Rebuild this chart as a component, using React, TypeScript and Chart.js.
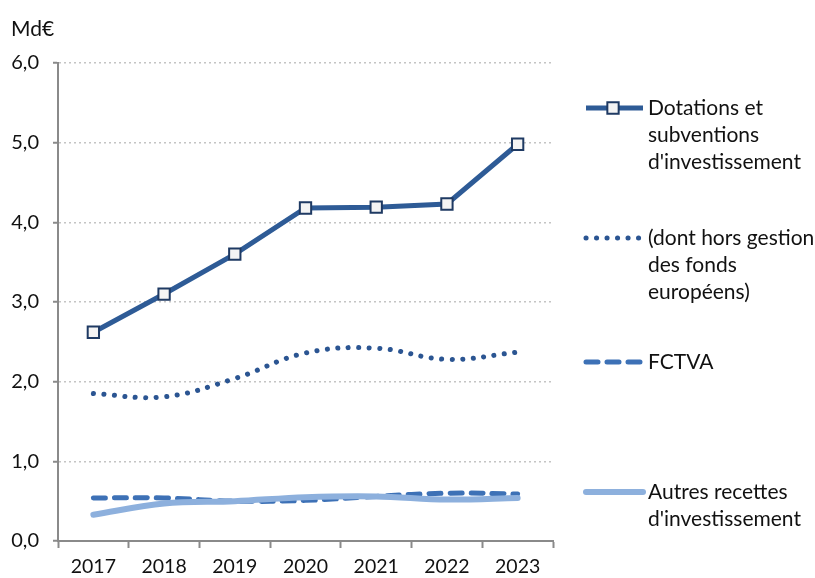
import React, { useEffect, useRef } from 'react';
import { Chart, registerables } from 'chart.js';

Chart.register(...registerables);

const FONT = 'Lato, "Open Sans", "DejaVu Sans", sans-serif';

const unitLabel = 'Md€';
const years = ['2017', '2018', '2019', '2020', '2021', '2022', '2023'];
const dotations = [2.62, 3.1, 3.6, 4.18, 4.19, 4.23, 4.98];
const horsFondsEuropeens = [1.85, 1.81, 2.04, 2.36, 2.42, 2.28, 2.37];
const fctva = [0.54, 0.54, 0.5, 0.51, 0.56, 0.6, 0.59];
const autresRecettes = [0.33, 0.47, 0.5, 0.55, 0.56, 0.52, 0.54];
const seriesLabels = [
  ['Dotations et', 'subventions', "d'investissement"],
  ['(dont hors gestion', 'des fonds', 'européens)'],
  ['FCTVA'],
  ['Autres recettes', "d'investissement"],
];
const yTickValues = [0, 1, 2, 3, 4, 5, 6];

const legendYs = [108, 238, 362, 492];
const TEXT = '#111111';

const overlayPlugin = {
  id: 'overlay',
  afterDraw(chart: any) {
    const ctx = chart.ctx;
    ctx.save();
    ctx.fillStyle = TEXT;
    ctx.font = `21px ${FONT}`;
    ctx.textBaseline = 'middle';
    ctx.textAlign = 'left';
    ctx.fillText(unitLabel, 11, 29);

    chart.data.datasets.forEach((ds: any, i: number) => {
      const y = legendYs[i];
      ctx.save();
      ctx.strokeStyle = ds.borderColor;
      ctx.lineWidth = ds.borderWidth;
      ctx.lineCap = ds.borderCapStyle || 'butt';
      ctx.setLineDash(ds.borderDash || []);
      ctx.beginPath();
      ctx.moveTo(586, y);
      ctx.lineTo(643, y);
      ctx.stroke();
      ctx.restore();
      if (ds.pointRadius > 0) {
        const s = ds.pointRadius * Math.SQRT1_2;
        ctx.save();
        ctx.fillStyle = ds.pointBackgroundColor;
        ctx.strokeStyle = ds.pointBorderColor;
        ctx.lineWidth = ds.pointBorderWidth;
        ctx.beginPath();
        ctx.rect(613 - s, y - s, 2 * s, 2 * s);
        ctx.fill();
        ctx.stroke();
        ctx.restore();
      }
      ctx.fillStyle = TEXT;
      ctx.font = `21px ${FONT}`;
      seriesLabels[i].forEach((t, j) => ctx.fillText(t, 648, y + j * 27));
    });
    ctx.restore();
  },
};

export default function App() {
  const ref = useRef<HTMLCanvasElement>(null);
  useEffect(() => {
    if (!ref.current) return;
    const chart = new Chart(ref.current, {
      type: 'line',
      data: {
        labels: years,
        datasets: [
          {
            label: seriesLabels[0].join(' '),
            data: dotations,
            borderColor: '#2E5B96',
            borderWidth: 5,
            tension: 0,
            pointStyle: 'rect',
            pointRadius: 8,
            pointBorderWidth: 2,
            pointBorderColor: '#1F3A63',
            pointBackgroundColor: '#F4F4F4',
            order: 0,
          } as any,
          {
            label: seriesLabels[1].join(' '),
            data: horsFondsEuropeens,
            borderColor: '#2B5592',
            borderWidth: 5,
            borderDash: [0.1, 10.4],
            borderCapStyle: 'round',
            tension: 0.4,
            pointRadius: 0,
            order: 3,
          },
          {
            label: seriesLabels[2].join(' '),
            data: fctva,
            borderColor: '#3D71B6',
            borderWidth: 5,
            borderDash: [12, 9],
            borderCapStyle: 'round',
            tension: 0.4,
            pointRadius: 0,
            order: 2,
          },
          {
            label: seriesLabels[3].join(' '),
            data: autresRecettes,
            borderColor: '#8DB0DD',
            borderWidth: 6,
            borderCapStyle: 'round',
            tension: 0.35,
            pointRadius: 0,
            order: 1,
          },
        ],
      },
      options: {
        animation: false,
        responsive: false,
        layout: { padding: { top: 63, right: 262, left: 0, bottom: 0 } },
        plugins: { legend: { display: false }, tooltip: { enabled: false } },
        scales: {
          x: {
            type: 'category',
            offset: true,
            grid: {
              offset: true,
              drawOnChartArea: false,
              drawTicks: true,
              tickLength: 7,
              color: '#8a8a8a',
              tickWidth: 2,
            },
            border: { color: '#8a8a8a', width: 2 },
            ticks: { color: TEXT, font: { family: FONT, size: 19.5 }, padding: 7, maxRotation: 0 },
            afterFit: (s: any) => {
              s.height = 37;
            },
          },
          y: {
            min: 0,
            max: 6,
            afterBuildTicks: (s: any) => {
              s.ticks = yTickValues.map((v) => ({ value: v }));
            },
            ticks: {
              color: TEXT,
              font: { family: FONT, size: 20 },
              padding: 14,
              callback: (v: any) => Number(v).toFixed(1).replace('.', ','),
            },
            grid: {
              color: '#C4C4C4',
              lineWidth: 1.5,
              tickLength: 5,
              tickColor: '#8a8a8a',
              tickWidth: 2,
              tickBorderDash: [],
            },
            border: { color: '#8a8a8a', width: 2, dash: [2, 3] },
            afterFit: (s: any) => {
              s.width = 58;
            },
          },
        },
      },
      plugins: [overlayPlugin],
    });
    return () => chart.destroy();
  }, []);
  return (
    <div style={{ position: 'fixed', left: 0, top: 0, width: 815, height: 578, background: '#fff' }}>
      <canvas ref={ref} width={815} height={578} />
    </div>
  );
}
